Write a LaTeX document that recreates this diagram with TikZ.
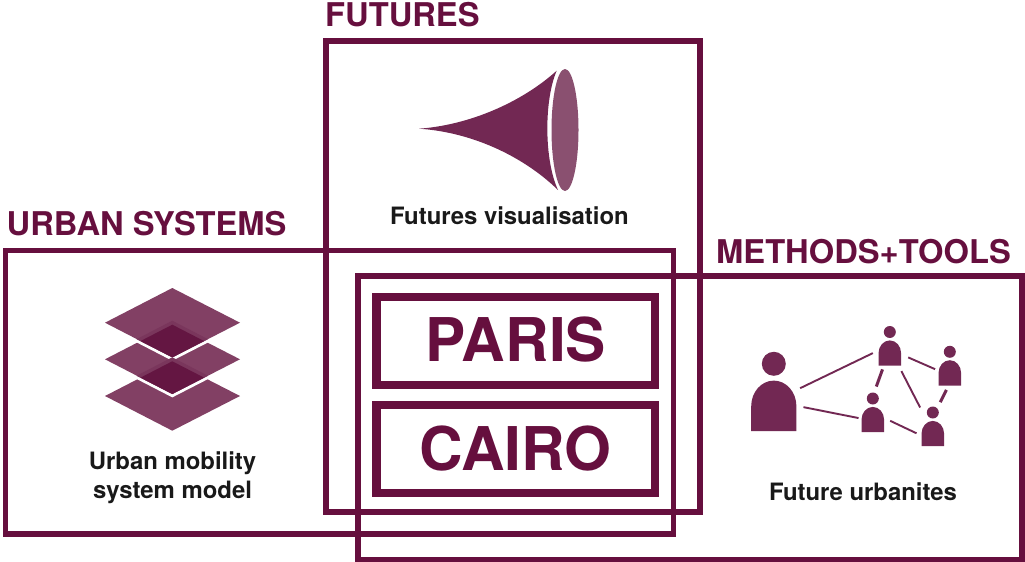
\documentclass[tikz,border=0pt]{standalone}
\usepackage{fontspec}
\setmainfont{TeX Gyre Heros}
\usetikzlibrary{positioning,
                shapes.geometric}
\definecolor{plum}{RGB}{102,15,62}
\definecolor{plumicon}{RGB}{114,40,83}
\definecolor{plumsoft}{RGB}{130,64,100}
\definecolor{plummouth}{RGB}{138,80,112}
\definecolor{plumdeep}{RGB}{100,22,66}
\definecolor{plumhalo}{RGB}{122,54,92}

\newcommand{\urbanite}[4]{% name, x, y, size
  \node (#1) [minimum width=#4*22.6pt, minimum height=#4*40pt, inner sep=0pt] at (#2,#3) {};
  \begin{scope}[shift={(#1.south west)}, scale=#4]
    \fill[plumicon] (0,0) -- (0,-12.5) .. controls (0,-19.5) and (5,-25.3) .. (11.3,-25.3)
                    .. controls (17.6,-25.3) and (22.6,-19.5) .. (22.6,-12.5) -- (22.6,0) -- cycle;
    \fill[plumicon] (11.3,-33.7) circle[radius=6];
  \end{scope}
}

\begin{document}
\begin{tikzpicture}[
            x = 1pt, y = -1pt,
node distance = 12pt,
     B/.style = {draw=plum, line width=5.6pt, inner sep=0pt},
  city/.style = {draw=plum, line width=8.3pt, inner sep=0pt, minimum width=278.5pt,
                 minimum height=88pt, text=plum, text depth=3pt,
                 font=\bfseries\fontsize{60.3}{62}\selectfont},
 title/.style = {anchor=base west, inner sep=0pt, text=plum,
                 font=\bfseries\fontsize{32.7}{36}\selectfont},
 legend/.style = {align=center, inner sep=0pt, text=black!90,
                 font=\bfseries\fontsize{23.9}{29}\selectfont},
  link/.style = {draw=plumicon, line width=1.9pt},
 linkb/.style = {draw=plumicon, line width=3pt}
                    ]
\useasboundingbox (0,0) rectangle (1025,562);
% the three overlapping frames
\node (futures) [B, minimum width=374pt, minimum height=471pt] at (513,276.5) {};
\node (urban)   [B, minimum width=668pt, minimum height=283.5pt] at (339.5,392.25) {};
\node (methods) [B, minimum width=664pt, minimum height=283.5pt] at (690,417.75) {};
%
\node (paris) [city] at (515.75,341) {PARIS};
\node (cairo) [city, below=of paris] {CAIRO};
%
\node (futuresT) [title] at (325,27)  {FUTURES};
\node (urbanT)   [title] at (6.5,235) {URBAN SYSTEMS};
\node (methodsT) [title] at (716,263) {METHODS+TOOLS};
%
\node (futuresC) [legend, anchor=base] at (509.5,224) {Futures visualisation};
\node (urbanC)   [legend, anchor=base] at (172.5,498) {Urban mobility\\system model};
\node (methodsC) [legend, anchor=base] at (863,500)   {Future urbanites};
% horn
\fill[plumicon] (419,128.7) .. controls (470,125) and (522,102) .. (556.7,70.7)
                .. controls (544,100) and (544,160) .. (558,190)
                .. controls (522,155) and (470,132) .. cycle;
\node (mouth) [ellipse, fill=plummouth, minimum width=27pt, minimum height=122pt, inner sep=0pt] at (565,130) {};
% layers
\foreach \ly in {396,359.3,322.7} {
  \draw[white, line width=6pt, line join=miter]
       (105,\ly) -- (172.3,\ly-34.7) -- (240,\ly) -- (172.3,\ly+34.7) -- cycle;
  \fill[plumsoft] (105,\ly) -- (172.3,\ly-34.7) -- (240,\ly) -- (172.3,\ly+34.7) -- cycle;
}
\foreach \ly in {322.7,359.3} {
  \fill[plumhalo] (136.5,\ly+16.5) -- (172.3,\ly-2) -- (208,\ly+16.5) -- (172.3,\ly+34.7) -- cycle;
  \fill[plumdeep] (140.6,\ly+18.3) -- (172.3,\ly+2) -- (204,\ly+18.3) -- (172.3,\ly+34.7) -- cycle;
}
% people
\urbanite{uBig}{774}{391}{2}
\urbanite{uTop}{890}{345.5}{1}
\urbanite{uRight}{950}{365.3}{1}
\urbanite{uMid}{873}{412}{1}
\urbanite{uLow}{933}{426}{1}
%
\draw[link, shorten <=3.7pt, shorten >=6.3pt]  (uBig.3)    -- (uTop.203);
\draw[link, shorten <=6.8pt, shorten >=3pt]    (uBig.-33)  -- (uMid.210);
\draw[link, shorten <=7.3pt, shorten >=3.7pt]  (uTop.-38)  -- (uRight.205);
\draw[linkb, shorten <=3.9pt, shorten >=5.6pt] (uTop.-107) -- (uMid.86);
\draw[link, shorten <=6.1pt, shorten >=3pt]    (uTop.-67)  -- (uLow.126);
\draw[linkb, shorten <=4.9pt, shorten >=4.1pt] (uRight.-94) -- (uLow.75);
\draw[link, shorten <=6.3pt, shorten >=5.5pt]  (uMid.-28)  -- (uLow.220);
\end{tikzpicture}
\end{document}
